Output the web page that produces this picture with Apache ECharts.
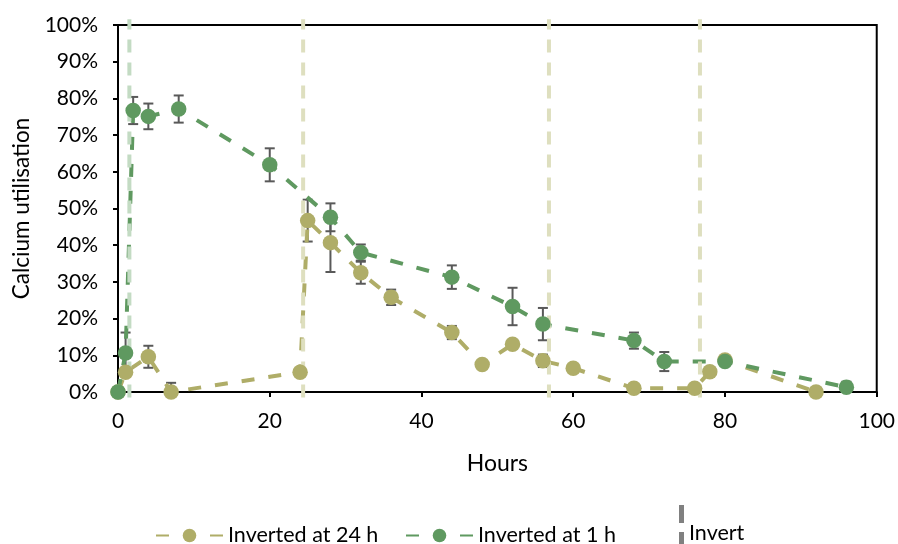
<!DOCTYPE html>
<html>
<head>
<meta charset="utf-8">
<script src="https://cdn.jsdelivr.net/npm/echarts@6/dist/echarts.min.js"></script>
<style>
  html, body { margin: 0; padding: 0; background: #fff; }
  #chart { width: 898px; height: 544px; }
</style>
</head>
<body>
<div id="chart"></div>
<script>
// Calcium utilisation over time, reactor inverted at 24 h
const hours24 = [0, 1, 4, 7, 24, 25, 28, 32, 36, 44, 48, 52, 56, 60, 68, 76, 78, 80, 92];
const util24  = [0, 5.4, 9.6, 0, 5.4, 46.7, 40.7, 32.5, 25.8, 16.2, 7.5, 13.0, 8.5, 6.5, 1.0, 1.0, 5.5, 8.7, 0];
const err24   = [0, 0, 3.0, 2.5, 0, 5.7, 8.0, 3.0, 2.1, 1.8, 0.8, 0.8, 1.7, 0.5, 0.5, 0.5, 0.5, 0.8, 0.5];

// Calcium utilisation over time, reactor inverted at 1 h
const hours1 = [0, 1, 2, 4, 8, 20, 28, 32, 44, 52, 56, 68, 72, 80, 96];
const util1  = [0, 10.6, 76.7, 75.1, 77.1, 61.9, 47.6, 38.0, 31.3, 23.3, 18.5, 14.0, 8.3, 8.3, 1.3];
const err1   = [0, 5.6, 3.7, 3.5, 3.7, 4.5, 3.8, 2.2, 3.2, 5.1, 4.4, 2.2, 2.6, 0.5, 1.5];

// Inversion times (h)
const invert1h  = [1.5];
const invert24h = [24.4, 56.8, 76.7];
const invertSpan = [-1.5, 101.6];

const xTicks = { min: 0, max: 100, step: 20 };
const yTicks = { min: 0, max: 100, step: 10 };

const OLIVE = '#afad68';
const GREEN = '#5f9960';
const FONT = 'Lato';

const pairs = (xs, ys) => xs.map((x, i) => [x, ys[i]]);

function verticalLines(xs) {
  const out = [];
  xs.forEach((x, i) => {
    if (i > 0) out.push([x, '-']);
    out.push([x, invertSpan[0]], [x, invertSpan[1]]);
  });
  return out;
}

function errorBars(xs, ys, es) {
  const data = [];
  xs.forEach((x, i) => { if (es[i] > 0) data.push([x, ys[i] - es[i], ys[i] + es[i]]); });
  return {
    type: 'custom',
    silent: true,
    clip: true,
    data,
    encode: { x: 0, y: [1, 2] },
    renderItem(params, api) {
      const lo = api.coord([api.value(0), api.value(1)]);
      const hi = api.coord([api.value(0), api.value(2)]);
      const hw = 5;
      const style = { stroke: '#595959', lineWidth: 2, fill: null };
      return {
        type: 'group',
        children: [
          { type: 'line', shape: { x1: lo[0], y1: lo[1], x2: hi[0], y2: hi[1] }, style },
          { type: 'line', shape: { x1: lo[0] - hw, y1: lo[1], x2: lo[0] + hw, y2: lo[1] }, style },
          { type: 'line', shape: { x1: hi[0] - hw, y1: hi[1], x2: hi[0] + hw, y2: hi[1] }, style }
        ]
      };
    }
  };
}

const dataSeries = (name, xs, ys, color) => ({
  name,
  type: 'line',
  data: pairs(xs, ys),
  symbol: 'circle',
  symbolSize: 15.5,
  itemStyle: { color },
  lineStyle: { color, width: 4, type: [13, 14] },
  clip: false,
  animation: false
});

const legendText = { color: '#000', fontFamily: FONT, fontSize: 21.5 };

const chart = echarts.init(document.getElementById('chart'));
chart.setOption({
  animation: false,
  textStyle: { fontFamily: FONT },
  grid: {
    left: 118, right: 21, top: 25, bottom: 152,
    show: true, borderColor: '#000', borderWidth: 2, backgroundColor: 'transparent'
  },
  xAxis: {
    type: 'value',
    min: xTicks.min, max: xTicks.max, interval: xTicks.step,
    name: 'Hours',
    nameLocation: 'middle',
    nameGap: 60,
    nameTextStyle: { color: '#000', fontSize: 23, fontFamily: FONT },
    axisLine: { lineStyle: { color: '#000', width: 2 } },
    axisTick: { show: true, length: 5, lineStyle: { color: '#000', width: 2 } },
    axisLabel: { color: '#000', fontSize: 21, margin: 19, fontFamily: FONT },
    splitLine: { show: false }
  },
  yAxis: {
    type: 'value',
    min: yTicks.min, max: yTicks.max, interval: yTicks.step,
    name: 'Calcium utilisation',
    nameLocation: 'middle',
    nameGap: 84,
    nameTextStyle: { color: '#000', fontSize: 22.5, fontFamily: FONT },
    axisLine: { show: true, lineStyle: { color: '#000', width: 2 } },
    axisTick: { show: true, length: 5, lineStyle: { color: '#000', width: 2 } },
    axisLabel: { color: '#000', fontSize: 21, margin: 20, fontFamily: FONT, formatter: '{value}%' },
    splitLine: { show: false }
  },
  legend: [
    {
      data: ['Inverted at 24 h'], left: 155, top: 524.5, padding: 0,
      itemWidth: 67, itemHeight: 17, textStyle: legendText, selectedMode: false
    },
    {
      data: ['Inverted at 1 h'], left: 405, top: 524.5, padding: 0,
      itemWidth: 67, itemHeight: 17, textStyle: legendText, selectedMode: false
    },
    {
      data: [{
        name: 'Invert',
        icon: 'path://M0,0h5v18h-5z M0,27h5v29h-5z',
        itemStyle: { color: '#808080' }
      }],
      left: 679, top: 505, padding: 0,
      itemWidth: 5, itemHeight: 56, textStyle: legendText, selectedMode: false
    }
  ],
  series: [
    errorBars(hours24, util24, err24),
    errorBars(hours1, util1, err1),
    dataSeries('Inverted at 24 h', hours24, util24, OLIVE),
    dataSeries('Inverted at 1 h', hours1, util1, GREEN),
    {
      name: 'Invert', type: 'line', data: verticalLines(invert1h),
      symbol: 'none', clip: false, connectNulls: false,
      itemStyle: { color: '#808080' },
      lineStyle: { color: '#c3dbc3', width: 4, type: [13, 10] }
    },
    {
      name: 'Invert', type: 'line', data: verticalLines(invert24h),
      symbol: 'none', clip: false, connectNulls: false,
      itemStyle: { color: '#808080' },
      lineStyle: { color: '#dedfbf', width: 4, type: [13, 10] }
    }
  ]
});
</script>
</body>
</html>
